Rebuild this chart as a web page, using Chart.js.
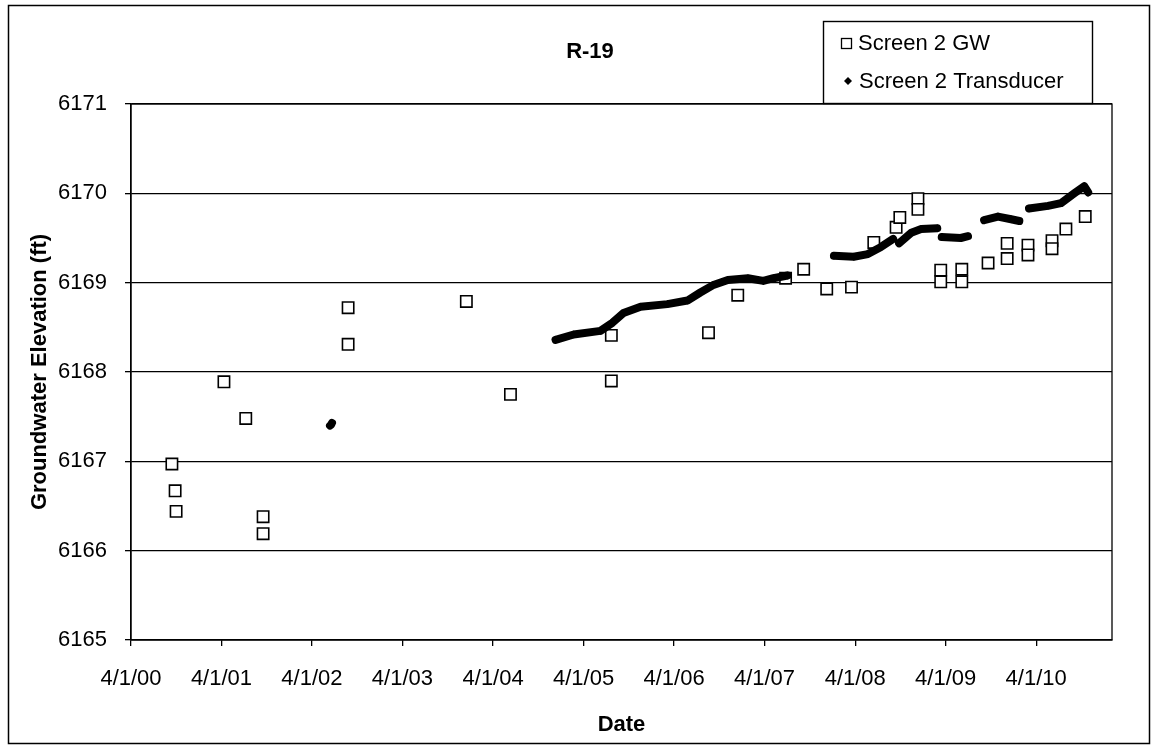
<!DOCTYPE html>
<html>
<head>
<meta charset="utf-8">
<title>R-19</title>
<script src="https://cdn.jsdelivr.net/npm/chart.js@4.4.0/dist/chart.umd.min.js"></script>
<style>
    html, body { margin: 0; padding: 0; background: #fff; }
    #wrap { width: 1153px; height: 748px; }
</style>
</head>
<body>
<div id="wrap"><canvas id="r19Chart"></canvas></div>
<script>
// Axis setup
const chartTitle = 'R-19';
const xTickLabels = ['4/1/00', '4/1/01', '4/1/02', '4/1/03', '4/1/04', '4/1/05',
                     '4/1/06', '4/1/07', '4/1/08', '4/1/09', '4/1/10'];
const xMaxDate = '2/1/11';
const yMin = 6165;
const yMax = 6171;

// Screen 2 GW (manual measurements)
const gwDates = ['9/13/00', '9/26/00', '9/30/00', '4/11/01', '7/8/01', '9/16/01', '9/16/01',
                 '8/25/02', '8/25/02', '12/15/03', '6/10/04', '7/22/05', '7/22/05',
                 '8/18/06', '12/14/06', '6/25/07', '9/6/07', '12/8/07', '3/17/08',
                 '6/15/08', '9/13/08', '9/28/08', '12/10/08', '12/10/08',
                 '3/12/09', '3/12/09', '6/5/09', '6/5/09', '9/19/09', '12/5/09', '12/5/09',
                 '2/27/10', '2/27/10', '6/4/10', '6/4/10', '7/30/10', '10/16/10'];
const gwElev = [6166.97, 6166.67, 6166.44, 6167.89, 6167.48, 6166.38, 6166.19,
                6168.72, 6168.31, 6168.79, 6167.75, 6168.41, 6167.90,
                6168.44, 6168.86, 6169.05, 6169.15, 6168.93, 6168.95,
                6169.45, 6169.62, 6169.73, 6169.94, 6169.82,
                6169.14, 6169.01, 6169.15, 6169.01, 6169.22, 6169.44, 6169.27,
                6169.42, 6169.31, 6169.47, 6169.38, 6169.60, 6169.74];

// Screen 2 Transducer (null = gap in record)
const trDates = ['6/13/02', '6/17/02', '6/21/02', null,
                 '12/9/04', '2/20/05', '6/8/05', '7/26/05', '9/9/05', '11/17/05', '3/5/06',
                 '5/25/06', '7/16/06', '9/4/06', '11/4/06', '1/24/07', '3/27/07', '5/7/07', '7/3/07', null,
                 '1/6/08', '3/26/08', '5/22/08', '7/14/08', '9/1/08', null,
                 '9/25/08', '11/13/08', '12/23/08', '2/26/09', null,
                 '3/16/09', '6/1/09', '6/30/09', null,
                 '9/3/09', '10/29/09', '12/21/09', '1/23/10', null,
                 '3/3/10', '5/19/10', '7/10/10', '9/2/10', '10/12/10', '10/28/10'];
const trElev = [6167.40, 6167.41, 6167.43, null,
                6168.36, 6168.42, 6168.46, 6168.55, 6168.66, 6168.73, 6168.76,
                6168.80, 6168.89, 6168.97, 6169.03, 6169.05, 6169.02, 6169.05, 6169.08, null,
                6169.30, 6169.29, 6169.32, 6169.40, 6169.49, null,
                6169.44, 6169.56, 6169.60, 6169.61, null,
                6169.51, 6169.50, 6169.52, null,
                6169.70, 6169.74, 6169.71, 6169.69, null,
                6169.83, 6169.86, 6169.89, 6170.00, 6170.08, 6170.01];

// m/d/yy -> day number
function toDay(s) {
    if (s === null) return null;
    const p = s.split('/');
    return Date.UTC(2000 + parseInt(p[2], 10), parseInt(p[0], 10) - 1, parseInt(p[1], 10)) / 86400000;
}

const xTickValues = xTickLabels.map(toDay);
const gwPoints = gwDates.map((d, i) => ({ x: toDay(d), y: gwElev[i] }));
const trPoints = trDates.map((d, i) => ({ x: d === null ? toDay(trDates[i - 1]) + 1 : toDay(d), y: trElev[i] }));

const FONT = "'Liberation Sans', Arial, Helvetica, sans-serif";

// Outer frame, title, plot border and legend box
const framePlugin = {
    id: 'framePlugin',
    afterDraw(chart) {
        const ctx = chart.ctx;
        const a = chart.chartArea;
        ctx.save();
        ctx.strokeStyle = '#000';
        ctx.lineWidth = 1.5;
        ctx.strokeRect(8.5, 5.5, 1141, 738);
        ctx.lineWidth = 1.3;
        ctx.strokeRect(a.left, a.top, a.right - a.left, a.bottom - a.top);

        // title
        ctx.fillStyle = '#000';
        ctx.font = 'bold 22px ' + FONT;
        ctx.textAlign = 'center';
        ctx.textBaseline = 'middle';
        ctx.fillText(chartTitle, 590, 52);

        // legend
        ctx.textAlign = 'left';
        ctx.fillStyle = '#fff';
        ctx.fillRect(823.5, 21.5, 269, 82);
        ctx.lineWidth = 1.4;
        ctx.strokeRect(823.5, 21.5, 269, 82);
        ctx.lineWidth = 1.3;
        ctx.strokeRect(841.5, 38.5, 10, 10);
        ctx.fillStyle = '#000';
        ctx.beginPath();
        ctx.moveTo(848, 77);
        ctx.lineTo(852, 81);
        ctx.lineTo(848, 85);
        ctx.lineTo(844, 81);
        ctx.closePath();
        ctx.fill();
        ctx.font = '22px ' + FONT;
        ctx.fillText(chart.data.datasets[0].label, 858, 44);
        ctx.fillText(chart.data.datasets[1].label, 859, 82);
        ctx.restore();
    }
};

const ctx = document.getElementById('r19Chart').getContext('2d');
new Chart(ctx, {
    type: 'scatter',
    data: {
        datasets: [{
            label: 'Screen 2 GW',
            data: gwPoints,
            pointStyle: 'rect',
            pointRadius: 8,
            pointHoverRadius: 8,
            borderColor: '#000',
            backgroundColor: '#fff',
            borderWidth: 1.6,
            showLine: false,
            order: 1
        }, {
            label: 'Screen 2 Transducer',
            data: trPoints,
            showLine: true,
            spanGaps: false,
            borderColor: '#000',
            backgroundColor: '#000',
            borderWidth: 8,
            borderCapStyle: 'round',
            borderJoinStyle: 'round',
            pointStyle: 'rectRot',
            pointRadius: 4,
            pointBorderWidth: 0,
            order: 0
        }]
    },
    options: {
        responsive: true,
        maintainAspectRatio: false,
        animation: false,
        layout: {
            padding: { top: 104, left: 23, right: 41, bottom: 6 }
        },
        plugins: {
            legend: { display: false },
            tooltip: { enabled: false },
            title: { display: false }
        },
        scales: {
            x: {
                type: 'linear',
                min: toDay('4/1/00'),
                max: toDay(xMaxDate),
                afterBuildTicks: function(scale) {
                    scale.ticks = xTickValues.map(v => ({ value: v }));
                },
                afterFit: function(scale) {
                    scale.height = 102;
                },
                ticks: {
                    color: '#000',
                    font: { family: FONT, size: 22 },
                    padding: 20,
                    maxRotation: 0,
                    autoSkip: false,
                    callback: function(value) {
                        const i = xTickValues.indexOf(value);
                        return i >= 0 ? xTickLabels[i] : '';
                    }
                },
                grid: {
                    drawOnChartArea: false,
                    drawTicks: true,
                    tickLength: 6,
                    color: '#000',
                    lineWidth: 1.3
                },
                border: { display: true, color: '#000', width: 1.3 },
                title: {
                    display: true,
                    text: 'Date',
                    color: '#000',
                    font: { family: FONT, size: 22, weight: 'bold' }
                }
            },
            y: {
                min: yMin,
                max: yMax,
                afterFit: function(scale) {
                    scale.width = 108;
                },
                ticks: {
                    stepSize: 1,
                    color: '#000',
                    font: { family: FONT, size: 22 },
                    padding: 18,
                    callback: function(value) {
                        return String(value);
                    }
                },
                grid: {
                    color: '#000',
                    lineWidth: 1.3,
                    tickLength: 6
                },
                border: { display: true, color: '#000', width: 1.3 },
                title: {
                    display: true,
                    text: 'Groundwater Elevation (ft)',
                    color: '#000',
                    font: { family: FONT, size: 22, weight: 'bold' }
                }
            }
        }
    },
    plugins: [framePlugin]
});
</script>
</body>
</html>
